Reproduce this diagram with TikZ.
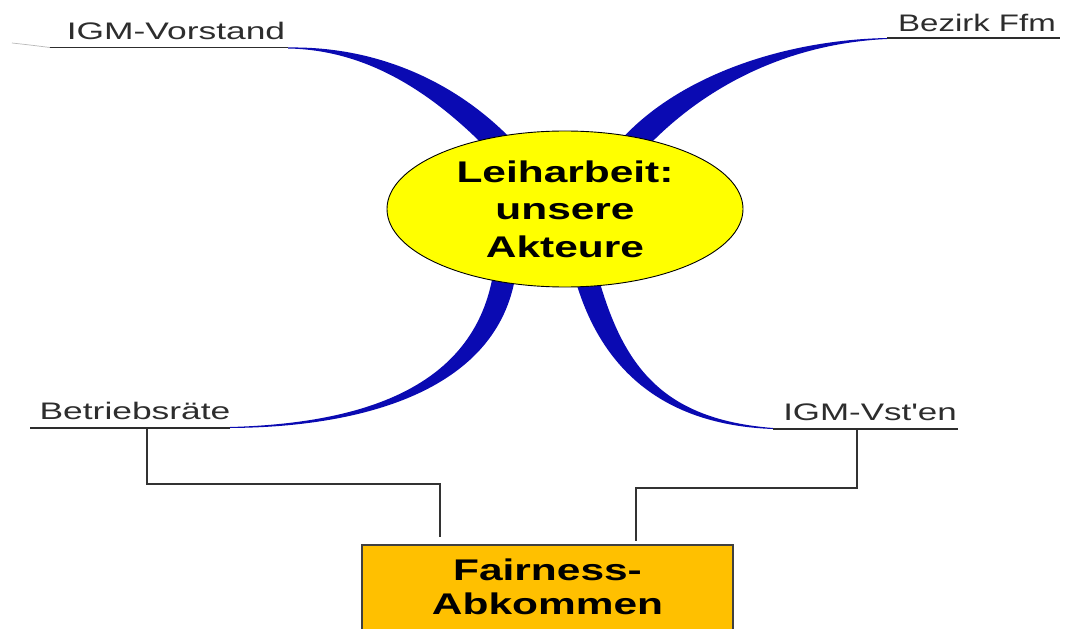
\documentclass[tikz,border=0pt]{standalone}
\usepackage{fontspec}
\setmainfont{Liberation Sans}
\usepackage{graphicx}
\usetikzlibrary{shapes.geometric}
\definecolor{branchblue}{RGB}{10,10,178}
\definecolor{ellyellow}{RGB}{255,255,0}
\definecolor{boxorange}{RGB}{255,192,0}
\definecolor{labelgray}{RGB}{45,45,45}
\newcommand{\lblw}[2][1.48]{\scalebox{#1}[1]{#2}}
\newcommand{\boldw}[1]{\scalebox{1.42}[1]{\bfseries #1}}
\begin{document}
\begin{tikzpicture}[x=1bp,y=-1bp,
  branch/.style={fill=branchblue, draw=none},
  uline/.style={draw=labelgray, line width=1.4bp},
  conn/.style={draw=black!80, line width=1.4bp},
  lbl/.style={text=labelgray, font=\fontsize{24}{28}\selectfont, inner sep=0pt, anchor=base},
  hub/.style={ellipse, draw=black, line width=0.9bp, fill=ellyellow, inner sep=0pt,
              minimum width=356bp, minimum height=156bp, align=center,
              font=\fontsize{30}{37.5}\selectfont},
  fairbox/.style={rectangle, draw=black!75, line width=1.2bp, fill=boxorange, inner sep=0pt,
              minimum width=371bp, minimum height=118bp, align=center,
              font=\fontsize{30}{34}\selectfont}
]
\useasboundingbox (0,0) rectangle (1070,629);
\begin{scope}
\clip (0,0) rectangle (1070,629);
\fill[white] (0,0) rectangle (1070,629);

% faint tail left of IGM-Vorstand
\draw[gray!55, line width=0.7bp] (12,43) .. controls (30,45) .. (50,47.5);

% tapered branches
\fill[branch] (288,47.5) .. controls (380,46) and (459,84) .. (514,142)
   -- (496,158) .. controls (441,100) and (374,50) .. (288,48.5) -- cycle;
\fill[branch] (887,38) .. controls (782,40) and (676,77) .. (619,142)
   -- (637,158) .. controls (694,93) and (780,44) .. (887,39) -- cycle;
\fill[branch] (230,428) .. controls (380,427) and (501,382) .. (516,272)
   -- (494,268) .. controls (479,378) and (380,423) .. (230,427) -- cycle;
\fill[branch] (773,429) .. controls (662,425) and (599,368) .. (574,275)
   -- (596,269) .. controls (621,362) and (658,419) .. (773,428) -- cycle;

% underlines
\coordinate (ulA1) at (50,47.5);  \coordinate (ulA2) at (288,47.5);
\coordinate (ulB1) at (887,38);  \coordinate (ulB2) at (1060,38);
\coordinate (ulC1) at (30,428);  \coordinate (ulC2) at (230,428);
\coordinate (ulD1) at (773,429); \coordinate (ulD2) at (958,429);
\draw[uline] (ulA1) -- (ulA2);
\draw[uline] (ulB1) -- (ulB2);
\draw[uline] (ulC1) -- (ulC2);
\draw[uline] (ulD1) -- (ulD2);

% labels
\node[lbl] (igmv) at (176,39.5) {\lblw{IGM-Vorstand}};
\node[lbl] (bez)  at (977,32) {\lblw[1.38]{Bezirk Ffm}};
\node[lbl] (br)   at (135,419) {\lblw{Betriebsräte}};
\node[lbl] (vst)  at (870,420) {\lblw[1.46]{IGM-Vst\textquotesingle en}};

% central ellipse
\node[hub] (lh) at (565,209) {\boldw{Leiharbeit:}\\\boldw{unsere}\\\boldw{Akteure}};

% box
\node[fairbox] (abk) at (547.5,604) {\boldw{Fairness-}\\\boldw{Abkommen}\\\vphantom{A}};

% connectors
\coordinate (brs) at (147,429);
\coordinate (vsts) at (857,430);
\coordinate (abkL) at (440,537);
\coordinate (abkR) at (636,541);
\draw[conn] (brs) -- (147,484) -| (abkL);
\draw[conn] (vsts) -- (857,488) -| (abkR);
\end{scope}
\end{tikzpicture}
\end{document}
